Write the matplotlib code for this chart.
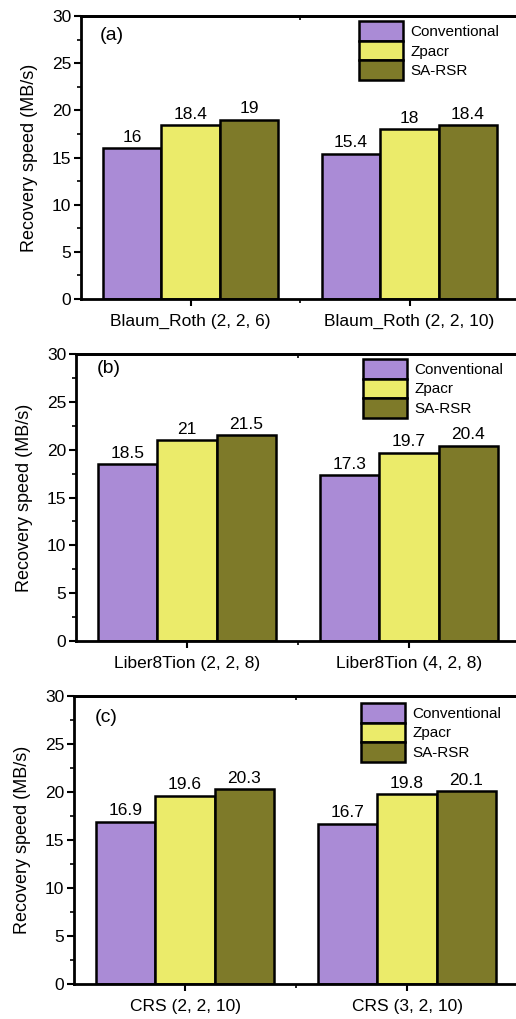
import matplotlib.pyplot as plt
import numpy as np
from matplotlib.ticker import MultipleLocator, FixedLocator

plt.rcParams['font.family'] = ['Liberation Sans', 'DejaVu Sans']

series = ["Conventional", "Zpacr", "SA-RSR"]
colors = ["#aa8bd6", "#ebeb6a", "#7e7a29"]

cats_a = ["Blaum_Roth (2, 2, 6)", "Blaum_Roth (2, 2, 10)"]
vals_a = [[16, 15.4], [18.4, 18], [19, 18.4]]
cats_b = ["Liber8Tion (2, 2, 8)", "Liber8Tion (4, 2, 8)"]
vals_b = [[18.5, 17.3], [21, 19.7], [21.5, 20.4]]
cats_c = ["CRS (2, 2, 10)", "CRS (3, 2, 10)"]
vals_c = [[16.9, 16.7], [19.6, 19.8], [20.3, 20.1]]
panel_labels = ["(a)", "(b)", "(c)"]

W, H = 516, 1019
fig = plt.figure(figsize=(W / 100, H / 100), dpi=100)

# pixel boxes: left, top, bottom, category spacing
boxes = [(81, 16, 299, 219), (76, 354, 641, 222), (74, 696, 984, 222)]
legend_anchor = [(0.635, 0.982), (0.646, 0.983), (0.646, 0.976)]
label_pos = [(0.043, 0.93), (0.047, 0.95), (0.047, 0.927)]

bw = 0.267
for i, (cats, vals) in enumerate([(cats_a, vals_a), (cats_b, vals_b), (cats_c, vals_c)]):
    left, top, bottom, sp = boxes[i]
    ax = fig.add_axes([left / W, 1 - bottom / H, 2 * sp / W, (bottom - top) / H])
    x = np.arange(len(cats))
    for j, name in enumerate(series):
        pos = x + (j - 1) * bw
        ax.bar(pos, vals[j], bw, color=colors[j], edgecolor='black',
               linewidth=1.8, label=name, zorder=2)
        for p, v in zip(pos, vals[j]):
            ax.text(p, v + 0.35, f"{v:g}", ha='center', va='bottom', fontsize=12.5)
    ax.set_xlim(-0.5, 1.5)
    ax.set_ylim(0, 30)
    ax.set_xticks(x)
    ax.set_xticklabels(cats, fontsize=12.5)
    ax.xaxis.set_minor_locator(FixedLocator([0.5]))
    ax.yaxis.set_major_locator(MultipleLocator(5))
    ax.yaxis.set_minor_locator(MultipleLocator(2.5))
    ax.tick_params(axis='y', which='major', direction='out', length=5, width=1.5, labelsize=12.5, pad=2)
    ax.tick_params(axis='y', which='minor', direction='out', length=3, width=1.2)
    ax.tick_params(axis='x', which='major', direction='out', length=5, width=1.5, pad=6)
    ax.tick_params(axis='x', which='minor', direction='out', length=3, width=1.2)
    ax.spines['right'].set_visible(False)
    for s in ['left', 'bottom', 'top']:
        ax.spines[s].set_linewidth(2)
    sec = ax.secondary_xaxis('top')
    sec.set_xticks([0.5])
    sec.set_xticklabels([])
    sec.tick_params(direction='in', length=3, width=1.2)
    sec.spines['top'].set_linewidth(2)
    ax.set_ylabel("Recovery speed (MB/s)", fontsize=13, labelpad=10)
    ax.text(*label_pos[i], panel_labels[i], transform=ax.transAxes, fontsize=14, va='center')
    ax.legend(loc='upper left', bbox_to_anchor=legend_anchor[i], frameon=False,
              fontsize=11, handlelength=2.9, handleheight=1.6, labelspacing=0,
              handletextpad=0.45, borderpad=0, borderaxespad=0)

fig.savefig("out.png", dpi=100)
